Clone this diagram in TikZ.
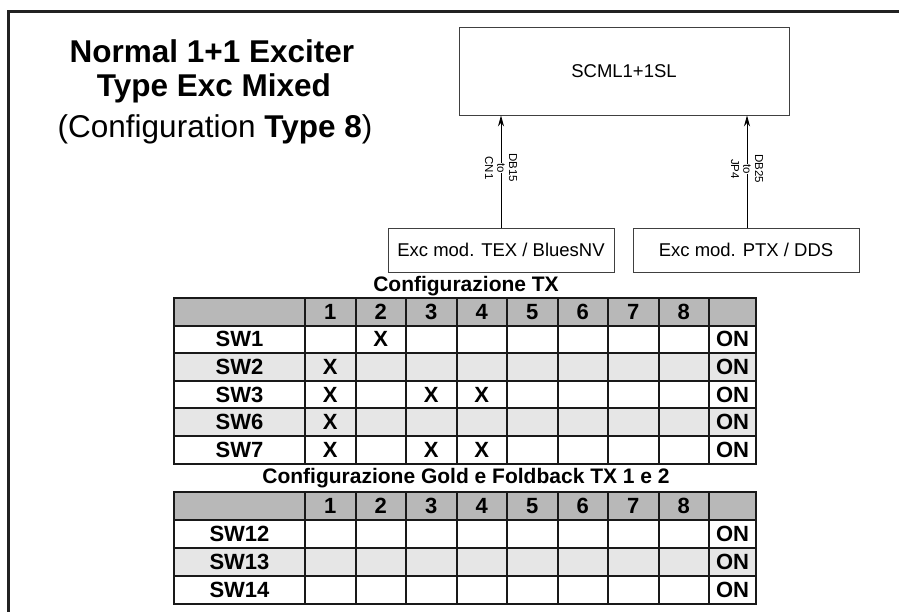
\documentclass[tikz,border=0pt]{standalone}
\usepackage{fontspec}
\setmainfont{Liberation Sans}
\usetikzlibrary{arrows.meta}

\definecolor{framegrey}{HTML}{222222}
\definecolor{hdrgrey}{HTML}{B8B8B8}
\definecolor{rowgrey}{HTML}{E6E6E6}

\tikzset{
  headline/.style={inner sep=0pt, anchor=base, font=\fontsize{31.5}{36}\selectfont},
  modbox/.style={draw=black!75, line width=0.9pt, inner sep=0pt, font=\fontsize{18.5}{20}\selectfont},
  link/.style={line width=0.8pt, -{Stealth[length=11pt,width=6pt]}},
  conn/.style={rotate=-90, inner sep=0.5pt, font=\fontsize{11.5}{12}\selectfont},
  grid/.style={line width=2pt, black!90},
  cell/.style={inner sep=0pt, font=\bfseries\fontsize{22}{24}\selectfont},
  tabtitle/.style={inner sep=0pt, anchor=base, font=\bfseries\fontsize{21}{24}\selectfont},
}

\begin{document}
\begin{tikzpicture}[x=1pt, y=-1pt]
  \useasboundingbox (0,0) rectangle (899,612);

  % cornice
  \draw[framegrey, line width=3pt] (8,612) -- (8,12) -- (899,12);

  % titolo
  \node[headline, font=\bfseries\fontsize{31.5}{36}\selectfont] (title1) at (212,63) {Normal 1+1 Exciter};
  \node[headline, font=\bfseries\fontsize{31.5}{36}\selectfont] (title2) at (214,97) {Type Exc Mixed};
  \node[headline] (title3) at (215,138) {(Configuration \textbf{Type 8})};

  % moduli
  \node[modbox, minimum width=330pt, minimum height=88pt] (scml) at (624,71) {SCML1+1SL};
  \node[modbox, minimum width=226pt, minimum height=44pt] (tex) at (501,250) {Exc mod. TEX / BluesNV};
  \node[modbox, minimum width=226pt, minimum height=44pt] (ptx) at (746,250) {Exc mod. PTX / DDS};

  \draw[link] ([xshift=1pt]ptx.north) coordinate (ptxin) -- (ptxin |- scml.south);
  \draw[link] (tex.north) -- (tex.north |- scml.south);

  % connettori
  \node[conn, fill=white] (to1) at (501,168) {to};
  \node[conn] (db15) at (513,168) {DB15};
  \node[conn] (cn1) at (489,168) {CN1};
  \node[conn, fill=white] (to2) at (747,169) {to};
  \node[conn] (db25) at (759,169) {DB25};
  \node[conn] (jp4) at (735,169) {JP4};

  % Configurazione TX
  \node[tabtitle] (cfgtx) at (466,291) {Configurazione TX};
  \begin{scope}[shift={(0,298)}]
    \fill[hdrgrey] (174,0) rectangle (756,27.6);
    \fill[rowgrey] (174,55.2) rectangle (756,82.8);
    \fill[rowgrey] (174,110.4) rectangle (756,138);
    \foreach \r in {1,...,5} \draw[grid] (174,27.6*\r) -- (756,27.6*\r);
    \foreach \k in {1,...,9} \draw[grid] ({254.5+50.5*\k},0) -- ({254.5+50.5*\k},165.6);
    \draw[grid] (174,0) rectangle (756,165.6);
    \foreach \n in {1,...,8} \node[cell] (tx-h\n) at ({279.75+50.5*\n},13.8) {\n};
    \foreach \sw [count=\r] in {SW1,SW2,SW3,SW6,SW7} {
      \node[cell] (tx-\sw) at (239.5,{13.8+27.6*\r}) {\sw};
      \node[cell] (tx-\sw-on) at (732.5,{13.8+27.6*\r}) {ON};
    }
    \foreach \r/\c in {1/2,2/1,3/1,3/3,3/4,4/1,5/1,5/3,5/4}
      \node[cell] (tx-x\r\c) at ({279.75+50.5*\c},{13.8+27.6*\r}) {X};
  \end{scope}

  % Configurazione Gold e Foldback
  \node[tabtitle] (cfggold) at (466,483) {Configurazione Gold e Foldback TX 1 e 2};
  \begin{scope}[shift={(0,492)}]
    \fill[hdrgrey] (174,0) rectangle (756,28);
    \fill[rowgrey] (174,56) rectangle (756,84);
    \foreach \r in {1,...,3} \draw[grid] (174,28*\r) -- (756,28*\r);
    \foreach \k in {1,...,9} \draw[grid] ({254.5+50.5*\k},0) -- ({254.5+50.5*\k},112);
    \draw[grid] (174,0) rectangle (756,112);
    \foreach \n in {1,...,8} \node[cell] (fb-h\n) at ({279.75+50.5*\n},14) {\n};
    \foreach \sw [count=\r] in {SW12,SW13,SW14} {
      \node[cell] (fb-\sw) at (239.5,{14+28*\r}) {\sw};
      \node[cell] (fb-\sw-on) at (732.5,{14+28*\r}) {ON};
    }
  \end{scope}

\end{tikzpicture}
\end{document}
